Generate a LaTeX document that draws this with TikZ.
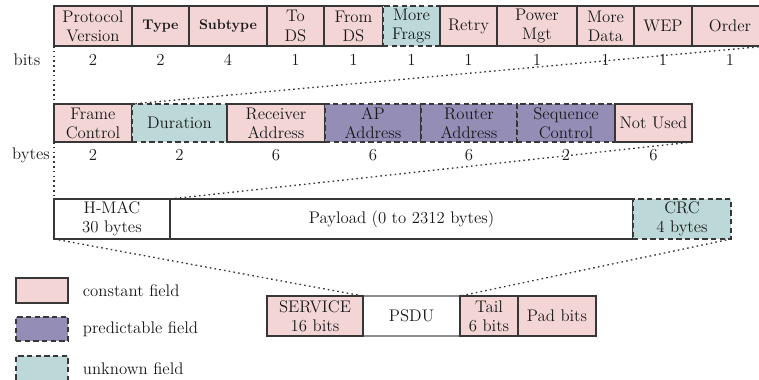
\documentclass[tikz,border=0pt]{standalone}
\usepackage{graphicx}

\definecolor{constfill}{RGB}{243,213,213}
\definecolor{predfill}{RGB}{148,142,183}
\definecolor{unkfill}{RGB}{188,216,216}
\definecolor{edge}{RGB}{55,55,55}
\definecolor{ink}{RGB}{25,25,25}

\tikzset{
  fieldbase/.style={draw=edge, line width=1.1pt, inner sep=0pt, outer sep=0pt,
    align=center, anchor=north west, text=ink,
    font=\fontsize{12.6}{14.3}\selectfont},
  constant/.style={fieldbase, fill=constfill},
  predictable/.style={fieldbase, fill=predfill, dash pattern=on 4pt off 2.5pt},
  unknown/.style={fieldbase, fill=unkfill, dash pattern=on 4pt off 2.5pt},
  plain/.style={fieldbase, fill=white},
  faint/.style={fieldbase, fill=white, draw=black!45, line width=0.8pt},
  zoomline/.style={draw=edge, line width=1pt, dash pattern=on 1.2pt off 2.4pt},
  lbl/.style={font=\fontsize{12.6}{14.3}\selectfont, inner sep=0pt, text=ink},
}

% #1 name, #2 style, #3 left, #4 right, #5 top, #6 bottom, #7 text
\newcommand{\fieldbox}[7]{%
  \pgfmathsetmacro{\fw}{(#4-#3)*0.75}%
  \pgfmathsetmacro{\fh}{(#6-#5)*0.75}%
  \node[#2, minimum width=\fw pt, minimum height=\fh pt] (#1) at (#3,#5) {#7};%
}
% heavier, smaller face used for the type fields
\newcommand{\widelabel}[1]{{\fontsize{10.5}{12}\selectfont\bfseries #1}}

\begin{document}
\begin{tikzpicture}[x=0.75pt, y=-0.75pt]
\useasboundingbox (0,0) rectangle (759,379);

% --- frame control bits ---
\fieldbox{pv}{constant}{54}{132}{6}{46}{Protocol\\Version}
\fieldbox{ty}{constant}{132}{189}{6}{46}{\widelabel{Type}}
\fieldbox{st}{constant}{189}{267}{6}{46}{\widelabel{Subtype}}
\fieldbox{tods}{constant}{267}{324}{6}{46}{To\\DS}
\fieldbox{frds}{constant}{324}{383}{6}{46}{From\\DS}
\fieldbox{mf}{unknown}{383}{440}{6}{46}{More\\Frags}
\fieldbox{rt}{constant}{440}{497}{6}{46}{Retry}
\fieldbox{pm}{constant}{497}{577}{6}{46}{Power\\Mgt}
\fieldbox{md}{constant}{577}{634}{6}{46}{More\\Data}
\fieldbox{wep}{constant}{634}{692}{6}{46}{WEP}
\fieldbox{ord}{constant}{692}{768}{6}{46}{Order}

\node[lbl] (bitslbl) at (27,60) {bits};
\foreach \n/\v in {pv/2,ty/2,st/4,tods/1,frds/1,mf/1,rt/1,pm/1,md/1,wep/1} {
  \path (\n.south) ++(0,14) node[lbl] (num-\n) {\v};
}
\node[lbl] (num-ord) at (730,60) {1};

% --- MAC header bytes ---
\fieldbox{fc}{constant}{54}{132}{104}{142}{Frame\\Control}
\fieldbox{dur}{unknown}{132}{227}{104}{142}{Duration}
\fieldbox{ra}{constant}{227}{325}{104}{142}{Receiver\\Address}
\fieldbox{ap}{predictable}{325}{421}{104}{142}{AP\\Address}
\fieldbox{ro}{predictable}{421}{517}{104}{142}{Router\\Address}
\fieldbox{sc}{predictable}{517}{615}{104}{142}{Sequence\\Control}
\fieldbox{nu}{constant}{615}{692}{104}{142}{Not Used}

\node[lbl] (byteslbl) at (31,155) {bytes};
\foreach \n/\v in {fc/2,dur/2,ra/6,ap/6,ro/6,sc/2,nu/6} {
  \path (\n.south) ++(0,13) node[lbl] (num-\n) {\v};
}

% --- MAC frame ---
\fieldbox{hmac}{plain}{54}{170}{199}{239}{H-MAC\\30 bytes}
\fieldbox{pay}{plain}{170}{633}{199}{239}{Payload (0 to 2312 bytes)}
\fieldbox{crc}{unknown}{633}{731}{199}{239}{CRC\\4 bytes}

% --- PHY frame ---
\fieldbox{psdu}{faint}{363}{460}{296}{336}{PSDU}
\fieldbox{svc}{constant}{267}{363}{296}{336}{SERVICE\\16 bits}
\fieldbox{tail}{constant}{460}{518}{296}{336}{Tail\\6 bits}
\fieldbox{pad}{constant}{518}{596}{296}{336}{Pad bits}

% --- zoom guides ---
\draw[zoomline] (pv.south west) -- (fc.north west);
\draw[zoomline] (ord.south east) -- (fc.north east);
\draw[zoomline] (fc.south west) -- (hmac.north west);
\draw[zoomline] (nu.south east) -- (hmac.north east);
\draw[zoomline] (hmac.south west) -- (psdu.north west);
\draw[zoomline] (crc.south east) -- (psdu.north east);

% --- legend ---
\fieldbox{legc}{constant}{16}{68}{278}{303}{}
\fieldbox{legp}{predictable}{16}{68}{317}{341}{}
\fieldbox{legu}{unknown}{16}{68}{356}{381}{}
\node[lbl, anchor=west] (legctxt) at ([xshift=11pt]legc.east) {constant field};
\node[lbl, anchor=west] (legptxt) at ([xshift=11pt]legp.east) {predictable field};
\node[lbl, anchor=west] (legutxt) at ([xshift=11pt]legu.east) {unknown field};
\end{tikzpicture}
\end{document}
